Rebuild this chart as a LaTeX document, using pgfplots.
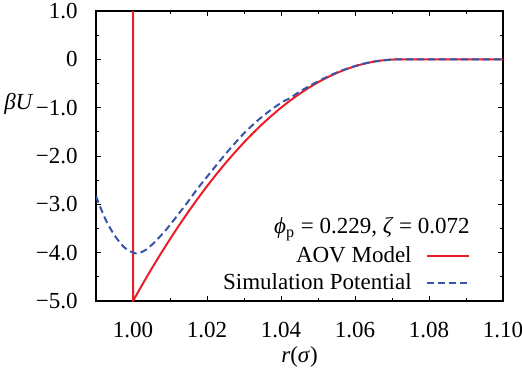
\documentclass[border=0pt]{standalone}
\usepackage{fontspec}
\setmainfont{Liberation Serif}
\usepackage{pgfplots}
\pgfplotsset{compat=1.18}
\definecolor{aovred}{RGB}{235,30,40}
\definecolor{simblue}{RGB}{55,85,170}
\begin{document}
\begin{tikzpicture}[font=\fontsize{11.5}{13.8}\selectfont]
\begin{axis}[name=ax, scale only axis, width=203.5pt, height=145pt,
  xmin=0.99, xmax=1.10, ymin=-5, ymax=1,
  xtick={1.00,1.02,1.04,1.06,1.08,1.10},
  xticklabels={1.00,1.02,1.04,1.06,1.08,1.10},
  minor xtick={0.99,1.01,1.03,1.05,1.07,1.09},
  ytick={1,0,-1,-2,-3,-4,-5},
  yticklabels={1.0,0,−1.0,−2.0,−3.0,−4.0,−5.0},
  minor ytick={0.5,-0.5,-1.5,-2.5,-3.5,-4.5},
  tick align=inside, major tick length=2.5pt, minor tick length=1.5pt,
  axis line style={line width=0.9pt},
  tick style={black, line width=0.5pt},
  tick label style={font=\fontsize{11.5}{13.8}\selectfont},
  label style={font=\fontsize{11.5}{13.8}\selectfont},
  yticklabel style={anchor=east, inner sep=0pt, xshift=-9pt},
  xticklabel style={anchor=north, inner sep=0pt, yshift=-10.5pt},
  every axis x label/.style={at={(rel axis cs:0.5,0)}, yshift=-28pt, anchor=center},
  every axis y label/.style={at={(rel axis cs:0,0.679)}, xshift=-31pt, anchor=east, inner sep=0pt},
  xlabel={\textit{r}(\textit{σ})},
  ylabel={\textit{βU}},
  legend style={draw=none, fill=none, at={(rel axis cs:0.919,0.015)}, anchor=south east, inner sep=0pt, row sep=0pt, font=\fontsize{11.5}{13.8}\selectfont},
  legend cell align=right, legend plot pos=right,
  legend image code/.code={\path (0pt,0pt); \draw[#1] (5pt,0pt) -- (26pt,0pt);},
  clip=true,
]
\addplot[aovred, line width=1pt] coordinates {
(1.000,5) (1.000,-5.000) (1.0025,-4.662) (1.005,-4.336) (1.0075,-4.022)
(1.010,-3.719) (1.0125,-3.428) (1.015,-3.149) (1.0175,-2.881) (1.020,-2.624)
(1.0225,-2.380) (1.025,-2.147) (1.0275,-1.927) (1.030,-1.718) (1.0325,-1.520)
(1.035,-1.335) (1.0375,-1.162) (1.040,-1.000) (1.0425,-0.851) (1.045,-0.713)
(1.0475,-0.588) (1.050,-0.474) (1.0525,-0.373) (1.055,-0.284) (1.0575,-0.2065)
(1.060,-0.142) (1.0625,-0.0888) (1.065,-0.048) (1.0675,-0.020) (1.070,-0.004)
(1.072,0) (1.100,0)
};
\addlegendentry{AOV Model}
\addplot[simblue, line width=1pt, dash pattern=on 3.5pt off 2pt, smooth] coordinates {
(0.990,-2.83) (0.9925,-3.30) (0.995,-3.64) (0.9975,-3.88) (1.000,-4.00)
(1.0015,-4.01) (1.0035,-3.94) (1.006,-3.77) (1.009,-3.52) (1.012,-3.23)
(1.015,-2.93) (1.0175,-2.67) (1.020,-2.43) (1.025,-1.96) (1.030,-1.53)
(1.035,-1.18) (1.040,-0.90) (1.0425,-0.80) (1.045,-0.67) (1.050,-0.455)
(1.055,-0.275) (1.060,-0.138) (1.065,-0.047) (1.070,-0.004) (1.072,0)
(1.080,0) (1.100,0)
};
\addlegendentry{Simulation Potential}
\node[anchor=east, inner sep=0pt] at (rel axis cs:0.919,0.248) {\textit{ϕ}\textsubscript{p} = 0.229, \textit{ζ} = 0.072};
\end{axis}
\pgfresetboundingbox
\path (ax.south west) ++(-48pt,-40pt) rectangle ++(261pt,190.5pt);
\end{tikzpicture}
\end{document}
